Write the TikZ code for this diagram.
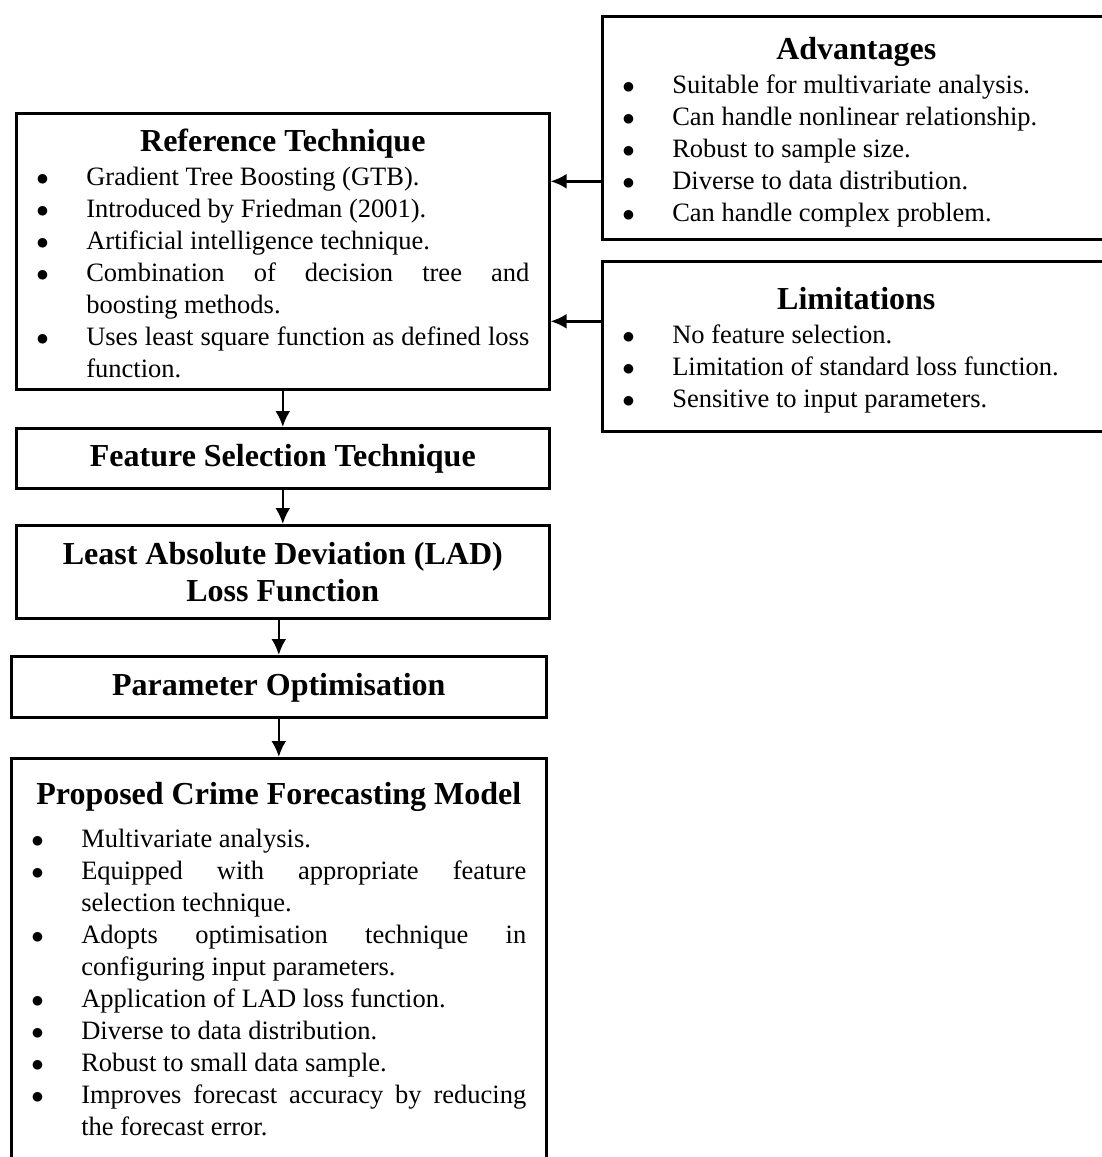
\documentclass[tikz,border=0pt]{standalone}
\usepackage{fontspec}
\setmainfont{Liberation Serif}
\usetikzlibrary{arrows.meta}

\hyphenpenalty=10000
\exhyphenpenalty=10000
\tolerance=9999

\newlength{\bulind}
\setlength{\bulind}{50pt}
\newcommand{\bitem}[1]{\par\noindent\hangindent=\bulind\hangafter=1\makebox[\bulind][l]{$\bullet$}#1}
% optional argument: height of the title line (room above the title)
\newcommand{\boxtitle}[2][22pt]{{\centering\fontsize{32}{37}\selectfont\bfseries\rule{0pt}{#1}#2\par}\vspace{1.5pt}}

\tikzset{
	box/.style={draw, line width=2.6pt, rectangle, anchor=north west, inner xsep=20pt, inner ysep=0pt,
		font=\fontsize{26.5}{32}\selectfont, align=justify},
	stage/.style={draw, line width=2.6pt, rectangle, anchor=north west, align=center,
		font=\fontsize{32}{37}\selectfont\bfseries},
	arr/.style={line width=2.6pt, -{Latex[length=16pt,width=15pt]}}
}

\begin{document}
\begin{tikzpicture}[x=1pt, y=-1pt]
	\useasboundingbox (0,0) rectangle (1102,1157);
	
	% left column
	\node[box, text width=493pt, minimum height=276pt] (ref) at (15,112) {
		\boxtitle[27pt]{Reference Technique}
		\bitem{Gradient Tree Boosting (GTB).}
		\bitem{Introduced by Friedman (2001).}
		\bitem{Artificial intelligence technique.}
		\bitem{Combination of decision tree and\linebreak boosting methods.}
		\bitem{Uses least square function as defined loss function.}\par
	};
	\node[stage, minimum width=533pt, minimum height=60pt] (feat) at (15,427) {Feature Selection Technique};
	\node[stage, minimum width=533pt, minimum height=93pt] (lad) at (15,524) {Least Absolute Deviation (LAD)\\Loss Function};
	\node[stage, minimum width=535pt, minimum height=61pt, text depth=5pt] (par) at (10,655) {Parameter Optimisation};
	\node[box, text width=495pt, inner ysep=24pt] (prop) at (10,757) {
		\boxtitle{Proposed Crime Forecasting Model}
		\vspace{9pt}
		\bitem{Multivariate analysis.}
		\bitem{Equipped with appropriate feature selection technique.}
		\bitem{Adopts optimisation technique in configuring input parameters.}
		\bitem{Application of LAD loss function.}
		\bitem{Diverse to data distribution.}
		\bitem{Robust to small data sample.}
		\bitem{Improves forecast accuracy by reducing the forecast error.}
		\par\noindent\rule{0pt}{60pt}\par
	};
	
	% right column
	\node[box, text width=468pt, minimum height=223pt] (adv) at (601,15) {
		\boxtitle[31pt]{Advantages}
		\bitem{Suitable for multivariate analysis.}
		\bitem{Can handle nonlinear relationship.}
		\bitem{Robust to sample size.}
		\bitem{Diverse to data distribution.}
		\bitem{Can handle complex problem.}\par
	};
	\node[box, text width=468pt, minimum height=170pt] (lim) at (601,260) {
		\boxtitle[30pt]{Limitations}
		\bitem{No feature selection.}
		\bitem{Limitation of standard loss function.}
		\bitem{Sensitive to input parameters.}\par
	};
	
	% arrows
	\draw[arr] (ref) -- (feat);
	\draw[arr] (feat) -- (lad);
	\draw[arr] (lad.south -| par.north) -- (par.north);
	\draw[arr] (par.south) -- (prop.north);
	\draw[arr] ([yshift=-53.5pt]adv.west) -- ([yshift=-53.5pt]adv.west -| ref.east);
	\draw[arr] ([yshift=25pt]lim.west) -- ([yshift=25pt]lim.west -| ref.east);
\end{tikzpicture}
\end{document}
